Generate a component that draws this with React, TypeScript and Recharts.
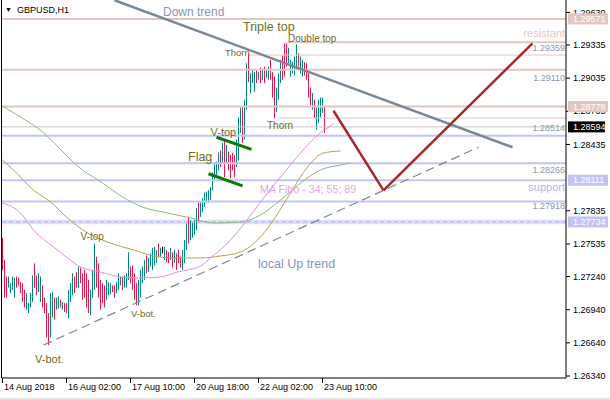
import { ComposedChart, Bar, Line, XAxis, YAxis, ReferenceLine, ReferenceArea } from 'recharts';

const FONT = '"Liberation Sans", Arial, sans-serif';

// time axis: one label every 32 H1 bars
const dateLabels = ['14 Aug 2018', '16 Aug 02:00', '17 Aug 10:00', '20 Aug 18:00', '22 Aug 02:00', '23 Aug 10:00'];
const dateTicks = [0, 32, 64, 96, 128, 160];

// 1.28135 sits fully under the 1.28111 box, so it is left out
const priceTicks = [1.2963, 1.29335, 1.29035, 1.28735, 1.28435, 1.27835, 1.27535, 1.2724, 1.2694, 1.2664, 1.2634];
const boxPrices = [1.29571, 1.28778, 1.28111, 1.27734, 1.28594];
const bidPrice = 1.28594;

// GBPUSD H1 bars (high / low), u = up, d = down, n = doji
const barHigh = [
  1.2759, 1.2739, 1.2724, 1.2724, 1.2718, 1.2724, 1.2723, 1.2724, 1.2723, 1.2719,
  1.2718, 1.2712, 1.2709, 1.27, 1.2709, 1.2725, 1.2736, 1.2725, 1.2727, 1.2724,
  1.2716, 1.2705, 1.27, 1.2691, 1.2709, 1.271, 1.2705, 1.2705, 1.2706, 1.2703,
  1.2701, 1.27, 1.27, 1.2712, 1.2718, 1.2727, 1.2724, 1.2728, 1.2733, 1.2732,
  1.2727, 1.273, 1.2727, 1.2721, 1.2712, 1.273, 1.2754, 1.2742, 1.2736, 1.2721,
  1.2718, 1.2716, 1.2721, 1.2719, 1.2718, 1.2716, 1.2716, 1.2719, 1.2727, 1.2724,
  1.2724, 1.2725, 1.2727, 1.2746, 1.2733, 1.2734, 1.2727, 1.2718, 1.2721, 1.273,
  1.2733, 1.2739, 1.2743, 1.2741, 1.2745, 1.275, 1.2751, 1.2748, 1.2754, 1.275,
  1.2751, 1.2751, 1.2748, 1.2746, 1.275, 1.2746, 1.2748, 1.2745, 1.2748, 1.2742,
  1.2748, 1.2757, 1.2772, 1.2778, 1.2775, 1.2773, 1.2775, 1.2786, 1.2791, 1.2791,
  1.2795, 1.28, 1.2801, 1.2802, 1.2805, 1.2818, 1.2827, 1.2828, 1.2836, 1.2838,
  1.2845, 1.2848, 1.2843, 1.2837, 1.2834, 1.2836, 1.2834, 1.2848, 1.2868, 1.2877,
  1.2877, 1.2884, 1.2917, 1.2926, 1.2908, 1.2911, 1.2909, 1.2911, 1.2909, 1.2913,
  1.2911, 1.2914, 1.2911, 1.2914, 1.292, 1.2909, 1.2905, 1.2895, 1.2908, 1.292,
  1.2924, 1.2935, 1.2935, 1.2931, 1.292, 1.2918, 1.2923, 1.2934, 1.2926, 1.2923,
  1.292, 1.2918, 1.2917, 1.2908, 1.2895, 1.289, 1.2884, 1.2877, 1.2884, 1.2886,
  1.2886, 1.2877,
];
const barLow = [
  1.273, 1.2705, 1.2705, 1.2714, 1.2709, 1.2712, 1.2705, 1.2714, 1.2716, 1.2709,
  1.2701, 1.2696, 1.2694, 1.2691, 1.2696, 1.2701, 1.2714, 1.2707, 1.271, 1.2701,
  1.2696, 1.2691, 1.2669, 1.2662, 1.2669, 1.2687, 1.2685, 1.2694, 1.2695, 1.2696,
  1.2694, 1.2692, 1.2691, 1.2686, 1.2701, 1.2707, 1.2709, 1.2714, 1.2714, 1.2718,
  1.2703, 1.2705, 1.2696, 1.2691, 1.2689, 1.2705, 1.2712, 1.2714, 1.2705, 1.2694,
  1.27, 1.2696, 1.2703, 1.2707, 1.2708, 1.271, 1.2705, 1.2709, 1.2712, 1.2716,
  1.2712, 1.2714, 1.2714, 1.2721, 1.2718, 1.2712, 1.2703, 1.2698, 1.2698, 1.2705,
  1.2718, 1.2721, 1.2727, 1.2728, 1.2733, 1.273, 1.2734, 1.2736, 1.2742, 1.2742,
  1.2745, 1.2739, 1.2737, 1.2736, 1.2739, 1.2732, 1.2736, 1.273, 1.2736, 1.2732,
  1.273, 1.2736, 1.2748, 1.2754, 1.2757, 1.2759, 1.2762, 1.2766, 1.2773, 1.2778,
  1.2782, 1.2787, 1.2791, 1.2791, 1.2793, 1.2802, 1.2811, 1.2814, 1.282, 1.2823,
  1.2827, 1.2814, 1.2827, 1.282, 1.2813, 1.282, 1.2814, 1.2823, 1.2829, 1.2854,
  1.2845, 1.2848, 1.2875, 1.29, 1.289, 1.2899, 1.2891, 1.2899, 1.2902, 1.2899,
  1.2902, 1.2899, 1.2904, 1.2902, 1.2902, 1.2886, 1.2867, 1.2873, 1.2884, 1.2899,
  1.2902, 1.2905, 1.2914, 1.2917, 1.2905, 1.2908, 1.2906, 1.2911, 1.2914, 1.2908,
  1.2905, 1.2906, 1.2902, 1.2886, 1.2879, 1.2875, 1.2867, 1.2857, 1.2863, 1.2868,
  1.2872, 1.2854,
];
const barDir =
  'ddduuuuddd' + 'dduuuudduu' + 'dddduuduud' + 'udduuuddud' + 'dddduuuddd' +
  'dduuudduuu' + 'duuudddduu' + 'uuduuuuudu' + 'nuddududdd' + 'uuuduuuudu' +
  'uuuuuuuuud' + 'ududddduuu' + 'duuduuudud' + 'uduuddduuu' + 'ddduuuuudu' +
  'udddduduuu' + 'ud';

// MA Fibo 34 / 55 / 89, read as [bar, price]
const ma34 = [
  [0, 1.27905], [9, 1.27815], [15.5, 1.27661], [25.5, 1.27507], [32.5, 1.27408], [39, 1.27326],
  [49, 1.27281], [59, 1.27236], [69, 1.27227], [79, 1.27236], [87.5, 1.27281], [99, 1.27335],
  [104, 1.27408], [114, 1.2757], [121.5, 1.27733], [129, 1.27914], [139, 1.2814], [149, 1.28358],
  [156.5, 1.28502], [165.5, 1.2862],
];
const ma55 = [
  [0, 1.28294], [5.5, 1.28204], [15.5, 1.28023], [24, 1.27914], [32.5, 1.2777], [42.5, 1.27634],
  [52.5, 1.27552], [65.5, 1.2748], [75.5, 1.27426], [85.5, 1.27408], [99, 1.27408], [109, 1.27426],
  [119, 1.27462], [127.5, 1.2757], [135.5, 1.27751], [144, 1.27996], [152.5, 1.28231],
  [160.5, 1.28358], [169, 1.28376],
];
const ma89 = [
  [0, 1.28783], [9, 1.28683], [17.5, 1.28584], [40, 1.28204], [50, 1.28086], [60, 1.2796],
  [70, 1.27869], [82.5, 1.27815], [94, 1.2777], [105.5, 1.27724], [119, 1.27733], [129, 1.27797],
  [139, 1.27932], [149, 1.28086], [159, 1.28204], [169, 1.28249], [174, 1.28267],
];

// drawn objects
const pinkLevels = [1.29571, 1.2911, 1.28778];
const blueLevels = [1.28514, 1.28266, 1.28111, 1.27918];
const dashLevel = 1.27734;
const resistLevel = { from: 142.5, price: 1.29359 };
const thornLevels = [{ from: 123.5, price: 1.29244 }, { from: 137.5, price: 1.28674 }];
const downTrend = [{ x: 56, y: 1.2974 }, { x: 255, y: 1.2841 }];
const upTrend = [{ x: 20.5, y: 1.2662 }, { x: 238, y: 1.2841 }];
const forecast = [{ x: 165.5, y: 1.2874 }, { x: 190.5, y: 1.2802 }, { x: 265, y: 1.2935 }];
const flagTop = [{ x: 107, y: 1.285 }, { x: 124.5, y: 1.2839 }];
const flagBottom = [{ x: 103, y: 1.2817 }, { x: 120, y: 1.2806 }];

const X_MAX = 281.75;

const bars = barHigh.map((h, i) => ({ i, range: [barLow[i], h], dir: barDir[i] }));
const toSeries = (pts: number[][]) => pts.map(([i, v]) => ({ i, v }));

function HlBar(props: any) {
  const { x, y, width, height, payload } = props;
  if (x == null || y == null) return null;
  const cx = Math.floor(x + width / 2);
  const top = Math.min(y, y + height);
  const h = Math.max(Math.abs(height), 1);
  const fill = payload.dir === 'u' ? '#00877f' : payload.dir === 'd' ? '#e8174b' : '#000000';
  return <rect x={cx} y={top} width={1} height={h} fill={fill} />;
}

const boxFill = (v: number) => (v === bidPrice ? '#000000' : v > bidPrice ? '#e2c6c0' : '#c4c4f4');

function PriceTick(props: any) {
  const { x, y, payload } = props;
  const v = payload.value;
  if (boxPrices.includes(v)) {
    return (
      <g>
        <rect x={x - 4} y={y - 5.5} width={v === bidPrice ? 37 : 40} height={11} fill={boxFill(v)} />
        <text x={x + 1} y={y} dy="0.35em" fill="#ffffff" fontSize={9} fontFamily={FONT}>{v.toFixed(5)}</text>
      </g>
    );
  }
  return (
    <g>
      <line x1={x - 6} x2={x - 2} y1={y} y2={y} stroke="#000" />
      <text x={x + 1} y={y} dy="0.35em" fill="#000" fontSize={9} fontFamily={FONT}>{v.toFixed(5)}</text>
    </g>
  );
}

function TimeTick(props: any) {
  const { x, y, payload } = props;
  const px = Math.floor(x) + 0.5;
  return (
    <g>
      <line x1={px} x2={px} y1={y - 8} y2={y - 3} stroke="#000" />
      <text x={px + 1.5} y={y + 4} fill="#000" fontSize={9} fontFamily={FONT}>
        {dateLabels[dateTicks.indexOf(payload.value)]}
      </text>
    </g>
  );
}

const T = (p: { x: number; y: number; s: number; c: string; a?: 'start' | 'end'; children: string }) => (
  <text x={p.x} y={p.y} fontSize={p.s} fill={p.c} textAnchor={p.a || 'start'} fontFamily={FONT}>{p.children}</text>
);

export default function App() {
  const olive = '#6e6e1e';
  const slate = '#8898b0';
  const priceCol = '#8a98ac';
  return (
    <div style={{ position: 'relative', width: 610, height: 400, background: '#fff', overflow: 'hidden' }}>
      <style>{'body{margin:0}'}</style>
      <ComposedChart width={610} height={400} data={bars} margin={{ top: 0, right: 0, bottom: 0, left: 2 }}>
        <XAxis
          dataKey="i"
          type="number"
          domain={[-0.25, X_MAX]}
          allowDataOverflow
          ticks={dateTicks}
          interval={0}
          height={22}
          tickSize={6}
          tickMargin={2}
          tickLine={false}
          axisLine={{ stroke: '#000' }}
          tick={<TimeTick />}
        />
        <YAxis
          orientation="right"
          type="number"
          domain={[1.26322, 1.29742]}
          allowDataOverflow
          ticks={[...priceTicks, ...boxPrices]}
          interval={0}
          width={44}
          tickSize={4}
          tickMargin={2}
          tickLine={false}
          axisLine={{ stroke: '#000' }}
          tick={<PriceTick />}
        />

        {pinkLevels.map((p) => (
          <ReferenceLine key={p} y={p} stroke="#e2c6c0" strokeWidth={2} />
        ))}
        <ReferenceLine
          segment={[{ x: resistLevel.from, y: resistLevel.price }, { x: X_MAX, y: resistLevel.price }]}
          stroke="#e2c6c0"
          strokeWidth={2}
        />
        {thornLevels.map((t) => (
          <ReferenceLine key={t.price} segment={[{ x: t.from, y: t.price }, { x: X_MAX, y: t.price }]} stroke="#dccac6" />
        ))}
        <ReferenceLine y={bidPrice} stroke="#c4c4c4" />
        {blueLevels.map((p) => (
          <ReferenceLine key={p} y={p} stroke="#c4c4f4" strokeWidth={2} />
        ))}
        <ReferenceArea y1={dashLevel - 0.0002} y2={dashLevel + 0.0002} fill="#dedefa" fillOpacity={1} stroke="none" />
        <ReferenceLine y={dashLevel} stroke="#acacee" strokeDasharray="4 3" />

        <Bar dataKey="range" barSize={1} shape={<HlBar />} isAnimationActive={false} />

        <Line data={toSeries(ma89)} dataKey="v" type="monotone" stroke="#8cb878" strokeWidth={1} dot={false} isAnimationActive={false} />
        <Line data={toSeries(ma55)} dataKey="v" type="monotone" stroke="#b4a448" strokeWidth={1} dot={false} isAnimationActive={false} />
        <Line data={toSeries(ma34)} dataKey="v" type="monotone" stroke="#e08ee0" strokeWidth={1} dot={false} isAnimationActive={false} />

        <ReferenceLine segment={downTrend} stroke="#778899" strokeWidth={2.5} ifOverflow="visible" />
        <ReferenceLine segment={upTrend} stroke="#778899" strokeWidth={1.2} strokeDasharray="9 5" ifOverflow="visible" />
        <ReferenceLine segment={[forecast[0], forecast[1]]} stroke="#a52a2a" strokeWidth={2.5} ifOverflow="visible" />
        <ReferenceLine segment={[forecast[1], forecast[2]]} stroke="#a52a2a" strokeWidth={2.5} ifOverflow="visible" />
        <ReferenceLine segment={flagTop} stroke="#087a08" strokeWidth={3} ifOverflow="visible" />
        <ReferenceLine segment={flagBottom} stroke="#087a08" strokeWidth={3} ifOverflow="visible" />
      </ComposedChart>

      <div style={{ position: 'absolute', left: 1, top: 0, width: 1, height: 378, background: '#000' }} />
      <div style={{ position: 'absolute', left: 0, top: 398, width: 610, height: 2, background: '#e4e4e4' }} />

      <svg width={610} height={400} style={{ position: 'absolute', left: 0, top: 0, pointerEvents: 'none' }}>
        <text x={5} y={12} fontSize={7} fill="#000" fontFamily={FONT}>▼</text>
        <T x={17} y={13} s={9} c="#000">GBPUSD,H1</T>
        <T x={163} y={16} s={12} c={slate}>Down trend</T>
        <T x={243} y={31} s={12.5} c={olive}>Triple top</T>
        <T x={288} y={41.5} s={10} c={olive}>Double top</T>
        <T x={225} y={56} s={9.5} c={olive}>Thorn</T>
        <T x={267} y={128.5} s={10} c={olive}>Thorn</T>
        <T x={210.5} y={136} s={11} c={olive}>V-top</T>
        <T x={188} y={160.5} s={12.5} c={olive}>Flag</T>
        <T x={80.5} y={239.5} s={10} c={olive}>V-top</T>
        <T x={131} y={317} s={9.5} c={olive}>V-bot.</T>
        <T x={35} y={362.5} s={11} c={olive}>V-bot.</T>
        <T x={260} y={193} s={10.7} c="#e4a6e4">MA Fibo - 34; 55; 89</T>
        <T x={258} y={268} s={12.5} c={slate}>local Up trend</T>
        <T x={565} y={37} s={11} c="#e6c6c2" a="end">resistant</T>
        <T x={565} y={191} s={11} c="#b6b6f0" a="end">support</T>
        <T x={565} y={51} s={9} c={priceCol} a="end">1.29359</T>
        <T x={565} y={80.5} s={9} c={priceCol} a="end">1.29110</T>
        <T x={565} y={130.5} s={9} c={priceCol} a="end">1.28514</T>
        <T x={565} y={172.5} s={9} c={priceCol} a="end">1.28266</T>
        <T x={565} y={209} s={9} c={priceCol} a="end">1.27918</T>
      </svg>
    </div>
  );
}
